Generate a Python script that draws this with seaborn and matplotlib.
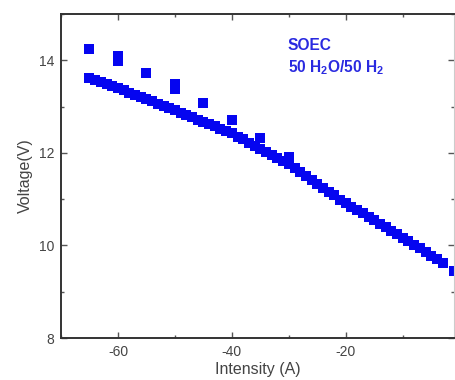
import matplotlib
matplotlib.use("Agg")
import matplotlib.pyplot as plt
from matplotlib.ticker import MultipleLocator
import seaborn as sns
import pandas as pd

# Dense V-I curve (main series)
main_current = [-65, -64, -63, -62, -61, -60, -59, -58, -57, -56, -55, -54, -53, -52, -51,
                -50, -49, -48, -47, -46, -45, -44, -43, -42, -41, -40, -39, -38, -37, -36,
                -35, -34, -33, -32, -31, -30, -29, -28, -27, -26, -25, -24, -23, -22, -21,
                -20, -19, -18, -17, -16, -15, -14, -13, -12, -11, -10, -9, -8, -7, -6,
                -5, -4, -3, -1]
main_voltage = [13.62, 13.58, 13.53, 13.49, 13.44, 13.40, 13.35, 13.30, 13.26, 13.21, 13.16,
                13.11, 13.06, 13.02, 12.97, 12.92, 12.87, 12.82, 12.77, 12.72, 12.67, 12.62,
                12.57, 12.52, 12.47, 12.42, 12.35, 12.29, 12.22, 12.15, 12.08, 12.02, 11.95,
                11.88, 11.82, 11.75, 11.67, 11.58, 11.50, 11.41, 11.33, 11.25, 11.16, 11.08,
                10.99, 10.91, 10.84, 10.76, 10.69, 10.61, 10.54, 10.47, 10.39, 10.32, 10.24,
                10.17, 10.09, 10.01, 9.94, 9.86, 9.78, 9.71, 9.63, 9.44]

# Sparse upper series
upper_current = [-65, -60, -60, -55, -50, -50, -45, -40, -35, -30]
upper_voltage = [14.25, 14.10, 13.98, 13.72, 13.48, 13.38, 13.07, 12.70, 12.32, 11.91]

x_ticks = [-60, -40, -20]
y_ticks = [8, 10, 12, 14]
x_label = "Intensity (A)"
y_label = "Voltage(V)"
note_line1 = "SOEC"
note_line2 = r"50 H$_\mathbf{2}$O/50 H$_\mathbf{2}$"

sns.set_style("ticks")
plt.rcParams["font.family"] = ["Liberation Sans", "DejaVu Sans"]
plt.rcParams["mathtext.fontset"] = "custom"
plt.rcParams["mathtext.bf"] = "Liberation Sans:bold"
plt.rcParams["mathtext.rm"] = "Liberation Sans"
plt.rcParams["axes.unicode_minus"] = False

main_df = pd.DataFrame({"I": main_current, "V": main_voltage})
upper_df = pd.DataFrame({"I": upper_current, "V": upper_voltage})

fig = plt.figure(figsize=(4.55, 3.8), dpi=100)
ax = fig.add_axes([61 / 455, 1 - 338 / 380, (454 - 61) / 455, (338 - 14) / 380])

blue = "#0505f0"
sns.scatterplot(data=main_df, x="I", y="V", ax=ax, marker="s", s=46, color=blue,
                linewidth=0)
sns.scatterplot(data=upper_df, x="I", y="V", ax=ax, marker="s", s=42, color=blue,
                linewidth=0)

ax.set_xlim(-70, -1)
ax.set_ylim(8, 15)
ax.set_xticks(x_ticks)
ax.set_yticks(y_ticks)
ax.xaxis.set_minor_locator(MultipleLocator(10))
ax.yaxis.set_minor_locator(MultipleLocator(1))
ax.tick_params(which="both", direction="in", top=True, right=True,
               colors="#555555", labelcolor="#444444")
ax.tick_params(which="major", length=4, width=1, labelsize=10, pad=5)
ax.tick_params(which="minor", length=2, width=1)

ax.set_xlabel(x_label, fontsize=11.5, color="#444444", labelpad=2)
ax.set_ylabel(y_label, fontsize=11.5, color="#444444", labelpad=4)

for side in ["left", "bottom", "top"]:
    ax.spines[side].set_color("#333333")
    ax.spines[side].set_linewidth(1.4)
ax.spines["right"].set_color("#cccccc")
ax.spines["right"].set_linewidth(0.8)

ax.text(-30.2, 14.32, note_line1, color="#2a2ae0", fontsize=11.2, fontweight="bold",
        va="center", ha="left")
ax.text(-30.2, 13.85, note_line2, color="#2a2ae0", fontsize=11.2, fontweight="bold",
        va="center", ha="left")

fig.savefig("out.png", dpi=100, facecolor="white")
